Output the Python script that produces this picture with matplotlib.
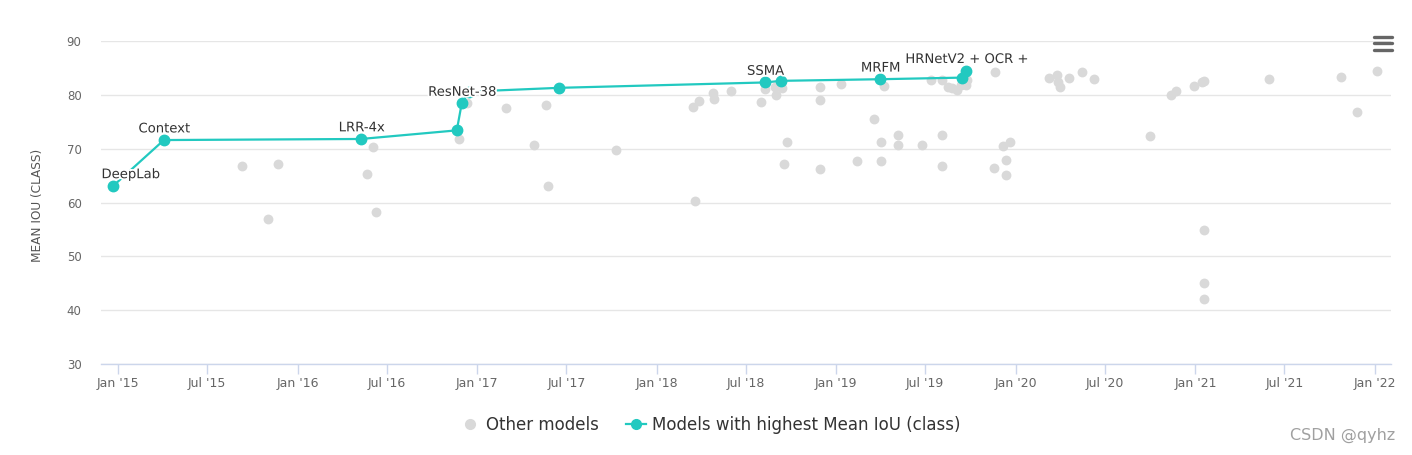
import matplotlib
matplotlib.use('Agg')
import matplotlib.pyplot as plt
import matplotlib.dates as mdates
import matplotlib.patheffects as pe
from matplotlib.lines import Line2D
import pandas as pd

# models that set a new best Mean IoU (class), in date order
best_dates = ['2014-12-22', '2015-04-04', '2016-05-09', '2016-11-20', '2016-11-30',
              '2016-12-15', '2017-06-16', '2018-08-09', '2018-09-11', '2019-03-31',
              '2019-09-15', '2019-09-23']
best_miou = [63.1, 71.6, 71.8, 73.4, 78.4, 80.6, 81.3, 82.3, 82.6, 82.9, 83.2, 84.5]
best_names = ['DeepLab', 'Context', 'LRR-4x', '', 'ResNet-38', '', '', 'SSMA', '',
              'MRFM', '', 'HRNetV2 + OCR +']

# all the other models
other_dates = [
    '2015-09-10', '2015-11-02', '2015-11-23', '2016-05-21', '2016-06-03', '2016-06-09',
    '2016-11-25', '2016-12-10', '2017-02-28', '2017-04-27', '2017-05-20', '2017-05-25',
    '2017-10-10', '2018-03-15', '2018-03-27', '2018-03-19', '2018-04-26', '2018-04-27',
    '2018-06-01', '2018-08-02', '2018-08-10', '2018-08-30', '2018-08-31', '2018-09-12',
    '2018-09-22', '2018-09-17', '2018-11-29', '2018-11-29', '2018-11-29', '2019-01-10',
    '2019-02-12', '2019-03-19', '2019-04-03', '2019-04-03', '2019-04-08', '2019-05-06',
    '2019-05-06', '2019-06-24', '2019-07-12', '2019-08-04', '2019-08-04', '2019-08-04',
    '2019-08-17', '2019-08-25', '2019-09-03', '2019-09-12', '2019-09-23', '2019-09-24',
    '2019-11-21', '2019-11-19', '2019-12-07', '2019-12-21', '2019-12-12', '2019-12-12',
    '2020-03-09', '2020-03-25', '2020-03-28', '2020-04-01', '2020-04-19', '2020-05-16',
    '2020-06-09', '2020-10-01', '2020-11-12', '2020-11-22', '2020-12-29', '2021-01-14',
    '2021-01-19', '2021-01-18', '2021-01-18', '2021-01-18', '2021-05-31', '2021-10-25',
    '2021-11-25', '2022-01-05']
other_miou = [
    66.7, 57.0, 67.2, 65.3, 70.4, 58.3,
    71.8, 78.4, 77.6, 70.7, 78.1, 63.0,
    69.8, 77.8, 78.9, 60.2, 80.3, 79.2,
    80.7, 78.7, 81.0, 81.5, 80.0, 81.3,
    71.3, 67.2, 81.4, 79.0, 66.2, 82.0,
    67.8, 75.5, 71.3, 67.7, 81.6, 72.5,
    70.7, 70.7, 82.8, 82.8, 72.5, 66.7,
    81.5, 81.3, 80.9, 81.9, 81.8, 82.8,
    84.2, 66.5, 70.5, 71.3, 67.9, 65.1,
    83.2, 83.6, 82.4, 81.4, 83.2, 84.2,
    82.9, 72.3, 80.0, 80.7, 81.6, 82.3,
    82.6, 54.9, 45.1, 42.0, 82.9, 83.4,
    76.9, 84.4]

teal = '#22c9c0'
grey = '#d9d9d9'

best_x = pd.to_datetime(best_dates)
other_x = pd.to_datetime(other_dates)

fig = plt.figure(figsize=(14.12, 4.55), dpi=100)
ax = fig.add_axes([101 / 1412, 1 - 364 / 455, 1290 / 1412, 323 / 455])

ax.scatter(other_x, other_miou, s=50, color=grey, linewidths=0, zorder=2)
ax.plot(best_x, best_miou, color=teal, lw=1.6, marker='o', markersize=7.5, zorder=3)

# data labels above the record points
for x, y, name in zip(best_x, best_miou, best_names):
    if not name:
        continue
    if name == 'DeepLab':
        off, ha = (-8.5, 5.5), 'left'
    else:
        off, ha = (0.5, 5.5), 'center'
    ax.annotate(name, (x, y), xytext=off, textcoords='offset points', ha=ha, va='baseline',
                fontsize=9.5, color='#333333', zorder=4,
                path_effects=[pe.withStroke(linewidth=2.5, foreground='white')])

ax.set_ylim(30, 90)
ax.set_yticks(range(30, 91, 10))
ax.set_xlim(pd.Timestamp('2014-11-27'), pd.Timestamp('2022-02-03'))
ax.xaxis.set_major_locator(mdates.MonthLocator(bymonth=[1, 7]))
ax.xaxis.set_major_formatter(mdates.DateFormatter("%b '%y"))

ax.grid(axis='y', color='#e6e6e6', lw=1)
ax.set_axisbelow(True)
for s in ['top', 'right', 'left']:
    ax.spines[s].set_visible(False)
ax.spines['bottom'].set_color('#ccd6eb')
ax.spines['bottom'].set_linewidth(1)
ax.tick_params(axis='x', length=7, width=1, color='#ccd6eb', labelsize=9,
               labelcolor='#666666', pad=2)
ax.tick_params(axis='y', length=0, labelsize=8.5, labelcolor='#666666', pad=14)

ax.set_ylabel('MEAN IOU (CLASS)', fontsize=8.7, color='#555555')
ax.yaxis.set_label_coords(-0.044, 0.49)

handles = [Line2D([], [], ls='none', marker='o', color=grey, markersize=7),
           Line2D([], [], color=teal, lw=1.6, marker='o', markersize=7)]
fig.legend(handles, ['Other models', 'Models with highest Mean IoU (class)'],
           loc='center', bbox_to_anchor=(0.503, 1 - 425 / 455), ncol=2, frameon=False,
           fontsize=12, labelcolor='#333333', handlelength=1.2, handletextpad=0.4,
           columnspacing=1.6)

# menu icon in the top right corner
for yy in (36.7, 43.3, 50.0):
    fig.add_artist(Line2D([1374 / 1412, 1392 / 1412], [1 - yy / 455, 1 - yy / 455],
                          color='#666666', lw=2.4, solid_capstyle='round'))

fig.text(1395 / 1412, 1 - 435 / 455, 'CSDN @qyhz', ha='right', va='center',
         fontsize=11.5, color='#a0a0a0')

fig.savefig('out.png', dpi=100, facecolor='white')
